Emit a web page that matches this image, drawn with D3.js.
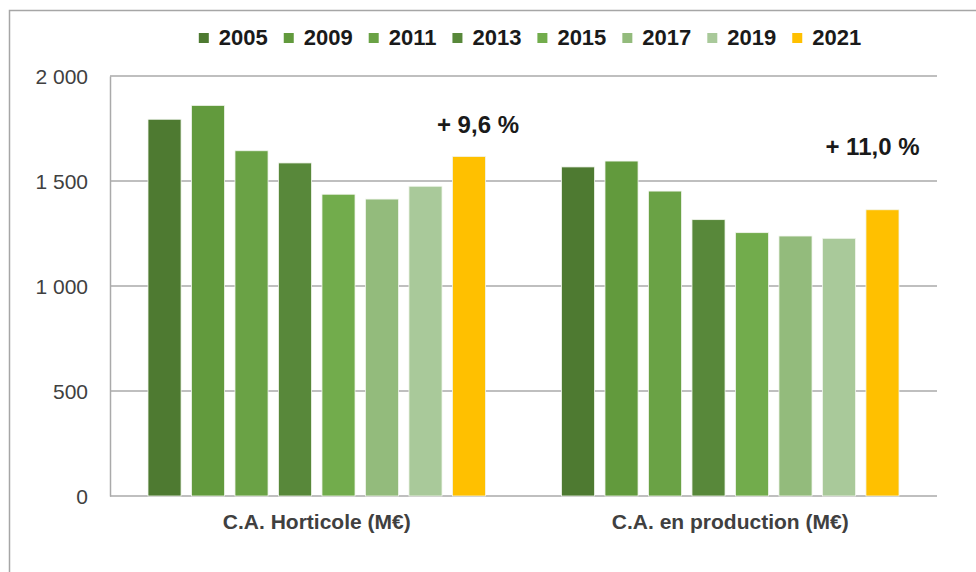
<!DOCTYPE html>
<html lang="fr">
<head>
<meta charset="utf-8">
<title>Chiffre d'affaires horticole</title>
<script src="https://cdn.jsdelivr.net/npm/d3@7"></script>
<style>
  html, body { margin: 0; padding: 0; background: #fff; overflow: hidden; }
  svg text { font-family: "Liberation Sans", Arial, sans-serif; }
  .tick text { fill: #404040; font-size: 21px; }
</style>
</head>
<body>
<div id="chart"></div>
<script>
// data (M€)
var categories = ["C.A. Horticole (M€)", "C.A. en production (M€)"];
var years = ["2005", "2009", "2011", "2013", "2015", "2017", "2019", "2021"];
var horticole = [1794, 1860, 1644, 1586, 1437, 1414, 1475, 1617];
var production = [1567, 1595, 1452, 1316, 1254, 1238, 1227, 1363];
var changeLabels = ["+ 9,6 %", "+ 11,0 %"];
var yTicks = [0, 500, 1000, 1500, 2000];
var yTickLabels = ["0", "500", "1 000", "1 500", "2 000"];
var colors = ["#4e7a31", "#629a3d", "#6aa245", "#58883a", "#72ac4c", "#93bb7c", "#a9c99a", "#ffc000"];

var series = [horticole, production];

var W = 976, H = 572;
var margin = {left: 110, right: 39, top: 76, bottom: 76};

var svg = d3.select("#chart").append("svg")
    .attr("width", W)
    .attr("height", H);

// outer frame (only left and top edges are visible in the picture)
svg.append("path")
    .attr("d", "M9.5," + H + "V10.5H" + W)
    .attr("fill", "none")
    .attr("stroke", "#a6a6a6")
    .attr("stroke-width", 1.5);

var x0 = d3.scaleBand()
    .domain(categories)
    .range([margin.left, W - margin.right]);

var groupSpan = 337.5;
var x1 = d3.scaleBand()
    .domain(years)
    .range([(x0.bandwidth() - groupSpan) / 2, (x0.bandwidth() + groupSpan) / 2])
    .paddingInner(0.24);

var y = d3.scaleLinear()
    .domain([0, 2000])
    .range([H - margin.bottom, margin.top]);

// gridlines
svg.append("g")
  .selectAll("line")
  .data(yTicks)
  .enter().append("line")
    .attr("x1", margin.left)
    .attr("x2", W - margin.right)
    .attr("y1", function(d){ return y(d); })
    .attr("y2", function(d){ return y(d); })
    .attr("stroke", "#aaaaaa")
    .attr("stroke-width", 1.5);

// y axis
var yAxis = d3.axisLeft(y)
    .tickValues(yTicks)
    .tickSize(0)
    .tickPadding(22)
    .tickFormat(function(d, i){ return yTickLabels[i]; });

var gy = svg.append("g")
    .attr("transform", "translate(" + margin.left + ",0)")
    .call(yAxis);
gy.select(".domain").attr("stroke", "#aaaaaa").attr("stroke-width", 1.5);
gy.selectAll(".tick text").attr("dy", "0.35em");

// bars
var groups = svg.append("g")
  .selectAll("g")
  .data(categories)
  .enter().append("g")
    .attr("transform", function(d){ return "translate(" + x0(d) + ",0)"; });

groups.selectAll("rect")
  .data(function(d, i){
    return years.map(function(yr, j){ return {year: yr, value: series[i][j], idx: j}; });
  })
  .enter().append("rect")
    .attr("x", function(d){ return x1(d.year); })
    .attr("y", function(d){ return y(d.value); })
    .attr("width", x1.bandwidth())
    .attr("height", function(d){ return y(0) - y(d.value); })
    .attr("fill", function(d){ return colors[d.idx]; })
    .attr("stroke", "#f2f6ee")
    .attr("stroke-width", 0.8);

// change annotations above the 2021 bars
groups.append("text")
    .attr("x", function(d, i){ return x1("2021") + x1.bandwidth() / 2 + (i == 0 ? 9 : -10); })
    .attr("y", function(d, i){ return i == 0 ? 133 : 155; })
    .attr("text-anchor", "middle")
    .attr("font-size", 24)
    .attr("font-weight", "bold")
    .attr("fill", "#1a1a1a")
    .text(function(d, i){ return changeLabels[i]; });

// category labels
var xAxis = d3.axisBottom(x0).tickSize(0).tickPadding(0);
var gx = svg.append("g")
    .attr("transform", "translate(0," + y(0) + ")")
    .call(xAxis);
gx.select(".domain").remove();
gx.selectAll(".tick text")
    .attr("y", 33)
    .attr("dy", 0)
    .attr("font-size", 23)
    .attr("font-weight", "bold")
    .attr("fill", "#1a1a1a");

// legend
var legend = svg.append("g");
var lx = 0;
years.forEach(function(yr, i){
  var item = legend.append("g").attr("transform", "translate(" + lx + ",0)");
  item.append("rect")
      .attr("x", 0).attr("y", 33)
      .attr("width", 10).attr("height", 10)
      .attr("fill", colors[i]);
  var t = item.append("text")
      .attr("x", 20).attr("y", 45)
      .attr("font-size", 22)
      .attr("font-weight", "bold")
      .attr("fill", "#1a1a1a")
      .text(yr);
  lx += 20 + t.node().getComputedTextLength() + 16;
});
var legendWidth = lx - 16;
legend.attr("transform", "translate(" + (197 + (666 - legendWidth) / 2) + ",0)");
</script>
</body>
</html>
